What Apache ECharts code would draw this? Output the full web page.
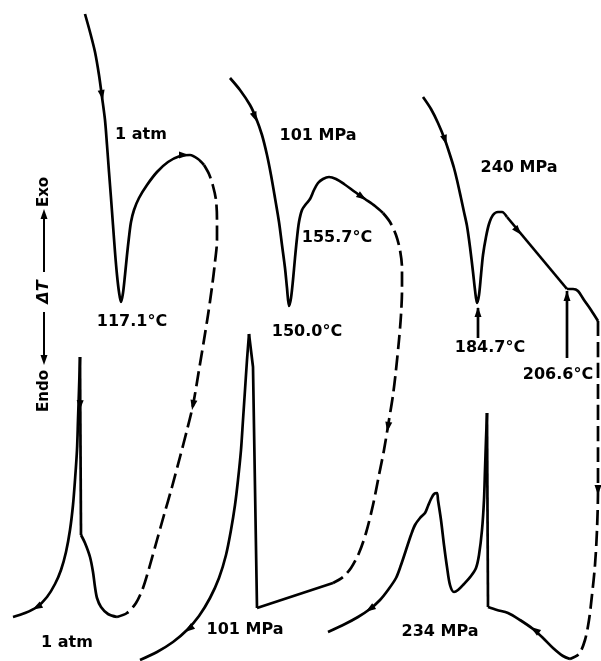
<!DOCTYPE html>
<html>
<head>
<meta charset="utf-8">
<title>DTA traces</title>
<script src="https://cdn.jsdelivr.net/npm/echarts@6/dist/echarts.min.js"></script>
<style>
  html, body { margin: 0; padding: 0; background: #fff; }
  #chart { width: 601px; height: 661px; }
</style>
</head>
<body>
<div id="chart"></div>
<script>
// Plot space: x = temperature direction (arbitrary units), y = ΔT offset (arbitrary units, downward).

// ---- 1 atm ----
const heat1atm = [[85,14],[90,32],[95,52],[99,75],[102,97],[105,120],[107,145],[109,172],[111,198],[113,225],[115,252],[117,275],[119,292],[121,302],[123,293],[125,275],[127,255],[129,237],[131,222],[134,210],[139,198],[147,185],[157,172],[168,162],[180,156],[190,155],[198,159],[204,165]];
const heat1atmDash = [[204,165],[209,174],[213,186],[216,200],[217,220],[217,240],[215,262],[212,287],[208,315],[204,340],[199,370],[193,405],[187,430],[180,457],[172,487],[164,515],[157,540],[150,565],[143,588],[136,603],[127,613],[117,617]];
const cool1atmTail = [[117,617],[108,614],[101,607],[97,598],[95,587],[93,572],[90,557],[85,543],[81,535]];
const cool1atmStep = [[81,535],[80,357]];
const cool1atmRise = [[80,357],[79,390],[78,420],[77,450],[75,480],[73,505],[70,530],[66,552],[61,570],[55,584],[47,597],[37,607],[25,613],[13,617]];

// ---- 101 MPa ----
const heat101 = [[230,78],[240,90],[250,105],[256,118],[262,135],[267,155],[271,175],[275,198],[279,222],[282,245],[285,268],[287,288],[289,306],[291,298],[293,280],[295,258],[297,238],[299,222],[302,210],[306,204],[310,199],[314,190],[318,183],[323,179],[329,177],[336,179],[344,184],[355,192],[365,199],[375,206],[383,213]];
const heat101Dash = [[383,213],[390,222],[396,235],[400,250],[402,268],[402,290],[401,315],[399,340],[396,370],[393,395],[389,420],[384,450],[379,475],[373,505],[366,533],[359,553],[351,568],[343,577],[333,583]];
const cool101Base = [[333,583],[257,608]];
const cool101Step = [[257,608],[253,367],[249,334]];
const cool101Rise = [[249,334],[247,360],[245,390],[243,420],[241,450],[238,480],[235,505],[231,530],[226,555],[219,578],[210,598],[199,616],[187,630],[173,642],[157,652],[140,660]];

// ---- 240 / 234 MPa ----
const heat240 = [[423,97],[431,109],[438,123],[445,140],[450,155],[454,168],[457,180],[461,198],[464,212],[467,226],[470,247],[473,272],[475,290],[477,303],[479,295],[481,275],[483,255],[486,237],[489,224],[493,215],[498,212],[502,212],[507,217]];
const heat240Slope = [[507,217],[567,289]];
const heat240Knee = [[567,289],[573,289],[578,291],[584,300],[591,310],[598,321]];
const heat240Dash = [[598,321],[598,360],[598,400],[598,450],[598,490],[597,530],[595,565],[592,595],[589,620],[585,640],[579,654],[570,659]];
const cool234Base = [[570,659],[563,656],[553,648],[543,638],[533,629],[520,620],[508,613],[497,610],[488,607]];
const cool234Step = [[488,607],[487,413]];
const cool234Rise = [[487,413],[486,440],[485,470],[484,500],[482,530],[479,555],[476,568],[471,576],[464,584],[458,590],[454,592],[450,585],[447,567],[444,545],[441,520],[438,500],[437,493],[434,494],[431,499],[428,506],[425,513],[420,518],[415,525],[411,535],[406,550],[401,565],[396,578],[388,590],[380,600],[370,609],[358,617],[345,624],[328,632]];

// Peak markers (vertical pointers)
const mark184 = [[478,338],[478,308]];
const mark206 = [[567,358],[567,291]];

// Direction arrows along traces: [x, y, heading in degrees, 0 = right, 90 = down]
const arrows = [
  [102,95,80],[184,155,0],[193,405,101],[37,607,151],[80,405,92],
  [255,117,68],[362,197,35],[388,427,99],[189,629,142],
  [445,140,72],[518,231,50],[598,490,90],[535,630,216],[370,609,146],
  [478,312,270],[567,296,270]
];

// Text annotations: [x, y, text]
const labels = [
  [141,135,'1 atm'],[318,136,'101 MPa'],[519,168,'240 MPa'],
  [132,322,'117.1°C'],[337,238,'155.7°C'],[307,332,'150.0°C'],
  [490,348,'184.7°C'],[558,375,'206.6°C'],
  [67,643,'1 atm'],[245,630,'101 MPa'],[440,632,'234 MPa']
];

const INK = '#000';
const FONT = '"DejaVu Sans", "Liberation Sans", sans-serif';

function trace(data, opts) {
  opts = opts || {};
  return {
    type: 'line',
    data: data,
    showSymbol: false,
    symbol: 'none',
    smooth: opts.smooth === undefined ? 0.3 : opts.smooth,
    silent: true,
    animation: false,
    z: 2,
    lineStyle: {
      color: INK,
      width: 2.7,
      type: opts.dashed ? [15, 6] : 'solid',
      cap: 'butt',
      join: 'round'
    }
  };
}

const series = [
  trace(heat1atm), trace(heat1atmDash, {dashed: true}),
  trace(cool1atmTail), trace(cool1atmStep, {smooth: false}), trace(cool1atmRise),
  trace(heat101), trace(heat101Dash, {dashed: true}),
  trace(cool101Base, {smooth: false}), trace(cool101Step, {smooth: false}), trace(cool101Rise),
  trace(heat240), trace(heat240Slope, {smooth: false}), trace(heat240Knee),
  trace(heat240Dash, {dashed: true}),
  trace(cool234Base), trace(cool234Step, {smooth: false}), trace(cool234Rise),
  trace(mark184, {smooth: false}), trace(mark206, {smooth: false}),
  {
    type: 'scatter',
    data: arrows,
    symbol: 'triangle',
    symbolSize: [7, 10],
    symbolRotate: function (v) { return -v[2] - 90; },
    itemStyle: { color: INK, opacity: 1 },
    silent: true,
    animation: false,
    z: 3
  },
  {
    type: 'scatter',
    data: labels,
    symbolSize: 0,
    silent: true,
    animation: false,
    itemStyle: { opacity: 1 },
    label: {
      show: true,
      position: 'inside',
      formatter: function (p) { return p.data[2]; },
      color: INK,
      fontSize: 16,
      fontWeight: 'bold',
      fontFamily: FONT
    },
    z: 4
  }
];

const chart = echarts.init(document.getElementById('chart'), null, { renderer: 'canvas' });

// Vertical ΔT indicator on the left: Endo (down) / Exo (up)
const axisX = 44;
const graphic = [
  { type: 'text', x: axisX, y: 192, rotation: Math.PI / 2,
    style: { text: 'Exo', fill: INK, font: 'bold 15px ' + FONT, align: 'center', verticalAlign: 'middle' } },
  { type: 'line', shape: { x1: axisX, y1: 272, x2: axisX, y2: 216 }, style: { stroke: INK, lineWidth: 2 } },
  { type: 'polygon', shape: { points: [[axisX, 209], [axisX - 3.5, 219], [axisX + 3.5, 219]] }, style: { fill: INK } },
  { type: 'text', x: axisX, y: 292, rotation: Math.PI / 2,
    style: { text: 'ΔT', fill: INK, font: 'italic bold 16px ' + FONT, align: 'center', verticalAlign: 'middle' } },
  { type: 'line', shape: { x1: axisX, y1: 312, x2: axisX, y2: 358 }, style: { stroke: INK, lineWidth: 2 } },
  { type: 'polygon', shape: { points: [[axisX, 365], [axisX - 3.5, 355], [axisX + 3.5, 355]] }, style: { fill: INK } },
  { type: 'text', x: axisX, y: 391, rotation: Math.PI / 2,
    style: { text: 'Endo', fill: INK, font: 'bold 15px ' + FONT, align: 'center', verticalAlign: 'middle' } }
];

chart.setOption({
  backgroundColor: '#fff',
  animation: false,
  grid: { left: 0, right: 0, top: 0, bottom: 0, containLabel: false },
  xAxis: { type: 'value', min: 0, max: 601, show: false },
  yAxis: { type: 'value', min: 0, max: 661, inverse: true, show: false },
  graphic: graphic,
  series: series
});
</script>
</body>
</html>
